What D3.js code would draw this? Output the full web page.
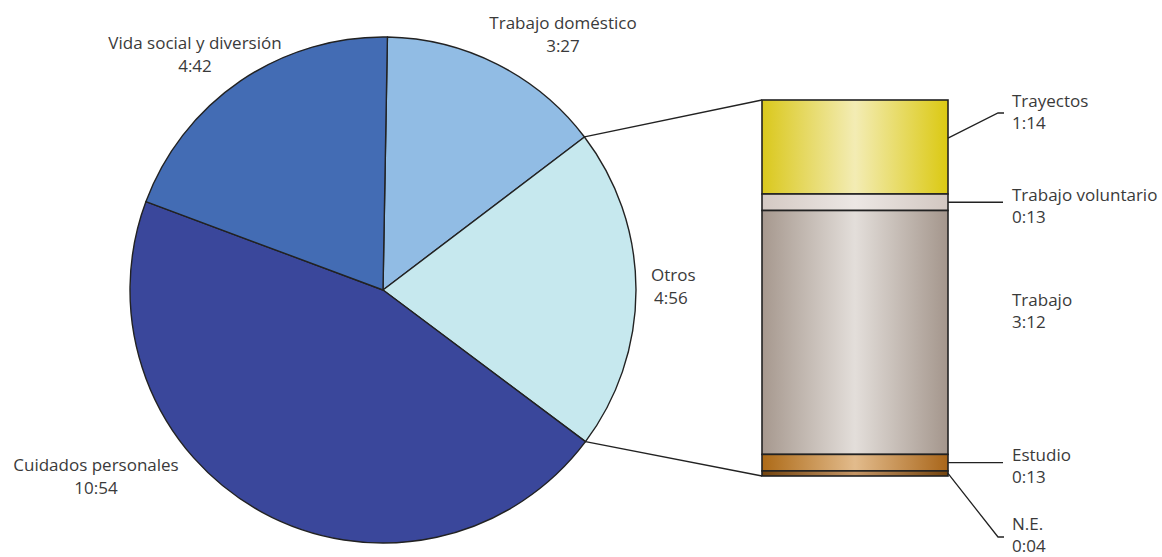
<!DOCTYPE html>
<html><head><meta charset="utf-8">
<script src="https://cdn.jsdelivr.net/npm/d3@7/dist/d3.min.js"></script>
<style>
html,body{margin:0;padding:0;background:#fff;}
svg text{font-family:"Open Sans","Noto Sans",sans-serif;font-size:17px;fill:#3a3a3a;}
</style></head>
<body>
<svg id="chart" width="1162" height="557"></svg>
<script>
const pieCategories = ["Trabajo doméstico","Otros","Cuidados personales","Vida social y diversión"];
const pieLabels = ["3:27","4:56","10:54","4:42"];
const pieMinutes = [207,296,654,282];
const barCategories = ["Trayectos","Trabajo voluntario","Trabajo","Estudio","N.E."];
const barLabels = ["1:14","0:13","3:12","0:13","0:04"];
const barMinutes = [74,13,192,13,4];

const pieColors = ["#91bce4","#c6e8ee","#3a479b","#436cb4"];
const barGrad = [
  ["#dac81c","#f3ecb4","#dbc912"],
  ["#d4c9c3","#ece7e4","#d2c7c1"],
  ["#a6988e","#e3deda","#a4968c"],
  ["#ad6a17","#e2bb8c","#a9661a"],
  ["#74440e","#c49565","#74440e"]
];

const svg = d3.select("#chart");
const cx = 383, cy = 290, R = 253;
const offset = 1 * Math.PI/180;
const pie = d3.pie().sort(null).value(d=>d)
  .startAngle(offset).endAngle(2*Math.PI+offset);
const arcs = pie(pieMinutes);
const arc = d3.arc().innerRadius(0).outerRadius(R);
const g = svg.append("g").attr("transform",`translate(${cx},${cy})`);
g.selectAll("path").data(arcs).join("path")
  .attr("d",arc).attr("fill",(d,i)=>pieColors[i])
  .attr("stroke","#222").attr("stroke-width",1.4).attr("stroke-linejoin","round");

// pie labels
const pieLabelPos = [[563,29,"middle"],[651,281,"start"],[96,471,"middle"],[195,49,"middle"]];
pieCategories.forEach((c,i)=>{
  const [x,y,a] = pieLabelPos[i];
  const t = svg.append("text").attr("x",x).attr("y",y).attr("text-anchor",a);
  t.append("tspan").attr("x",x).text(c);
  t.append("tspan").attr("x", a==="start"? x+3 : x).attr("dy",23).text(pieLabels[i]);
});

// bar
const bx0 = 762, bx1 = 948, by0 = 100, by1 = 476;
const total = d3.sum(barMinutes);
const y = d3.scaleLinear().domain([0,total]).range([by0,by1]);
const defs = svg.append("defs");
barGrad.forEach((c,i)=>{
  const lg = defs.append("linearGradient").attr("id","bg"+i).attr("x1","0%").attr("x2","100%").attr("y1","0%").attr("y2","0%");
  lg.append("stop").attr("offset","0%").attr("stop-color",c[0]);
  lg.append("stop").attr("offset","50%").attr("stop-color",c[1]);
  lg.append("stop").attr("offset","100%").attr("stop-color",c[2]);
});
let cum = 0;
const segs = barMinutes.map((v,i)=>{const s={i,v,y0:cum,y1:cum+v};cum+=v;return s;});
svg.selectAll("rect.seg").data(segs).join("rect").attr("class","seg")
  .attr("x",bx0).attr("width",bx1-bx0)
  .attr("y",d=>y(d.y0)).attr("height",d=>y(d.y1)-y(d.y0))
  .attr("fill",d=>`url(#bg${d.i})`)
  .attr("stroke","#222").attr("stroke-width",1.6);

// connectors from pie Otros slice to bar
const otros = arcs[1];
const pt = a => [cx + R*Math.sin(a), cy - R*Math.cos(a)];
const p1 = pt(otros.startAngle), p2 = pt(otros.endAngle);
svg.append("line").attr("x1",p1[0]).attr("y1",p1[1]).attr("x2",bx0).attr("y2",by0).attr("stroke","#222").attr("stroke-width",1.3);
svg.append("line").attr("x1",p2[0]).attr("y1",p2[1]).attr("x2",bx0).attr("y2",by1).attr("stroke","#222").attr("stroke-width",1.3);

// bar labels with leader lines
const lx = 1012;
const labelY = [107, 201, 306, 461, 530];
const leaders = [
  [[bx1, y(30)],[998,113],[1004,113]],
  [[bx1, y(segs[1].y0+6.5)],[1003, y(segs[1].y0+6.5)]],
  null,
  [[bx1, y(segs[3].y0+6.5)],[1003, y(segs[3].y0+6.5)]],
  [[bx1, y(segs[4].y0+2)],[998,537],[1004,537]]
];
leaders.forEach(pts=>{
  if(!pts) return;
  svg.append("path").attr("d",d3.line()(pts)).attr("fill","none").attr("stroke","#222").attr("stroke-width",1.3);
});
barCategories.forEach((c,i)=>{
  const t = svg.append("text").attr("x",lx).attr("y",labelY[i]);
  t.append("tspan").attr("x",lx).text(c);
  t.append("tspan").attr("x",lx).attr("dy",22).text(barLabels[i]);
});
</script>
</body></html>
